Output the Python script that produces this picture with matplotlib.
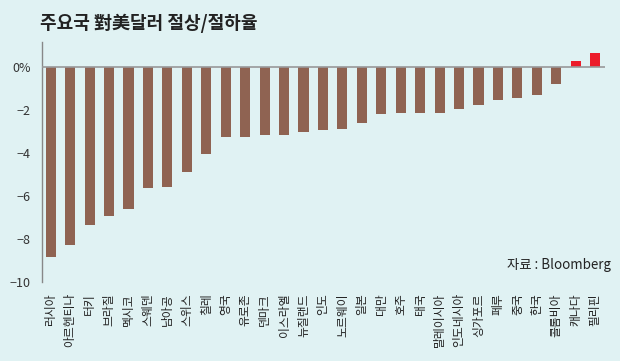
import matplotlib.pyplot as plt
import numpy as np

plt.rcParams['font.family'] = ['Noto Sans CJK KR', 'DejaVu Sans']

# 국가별 대미달러 절상/절하율 (%)
nations = ["러시아", "아르헨티나", "터키", "브라질", "멕시코", "스웨덴", "남아공", "스위스",
           "칠레", "영국", "유로존", "덴마크", "이스라엘", "뉴질랜드", "인도", "노르웨이",
           "일본", "대만", "호주", "태국", "말레이시아", "인도네시아", "싱가포르", "페루",
           "중국", "한국", "콜롬비아", "캐나다", "필리핀"]
rates = [-8.85, -8.28, -7.34, -6.92, -6.61, -5.66, -5.60, -4.88,
         -4.06, -3.28, -3.25, -3.20, -3.20, -3.06, -2.97, -2.88,
         -2.63, -2.21, -2.15, -2.15, -2.15, -1.98, -1.78, -1.55,
         -1.47, -1.33, -0.80, 0.26, 0.62]
yticks = [0, -2, -4, -6, -8, -10]
ylabels = ["0%", "\u22122", "\u22124", "\u22126", "\u22128", "\u221210"]

bg = "#e0f2f3"
brown = "#8f6352"
red = "#ec1c2a"

fig = plt.figure(figsize=(6.2, 3.61), dpi=100, facecolor=bg)
ax = fig.add_axes([0.0677, 0.219, 0.908, 0.666], facecolor=bg)

x = np.arange(len(nations))
cols = [red if v > 0 else brown for v in rates]
ax.bar(x, rates, width=0.52, color=cols, zorder=2)
ax.axhline(0, color="#999999", lw=1.2, zorder=3)

ax.set_xlim(-0.45, 28.5)
ax.set_ylim(-10, 1.16)
ax.set_yticks(yticks)
ax.set_yticklabels(ylabels, fontsize=9, color="#333333")
ax.set_xticks(x)
ax.set_xticklabels(nations, rotation=90, fontsize=8.5, color="#222222")
ax.tick_params(axis="both", length=0)
ax.tick_params(axis="x", pad=8)
ax.tick_params(axis="y", pad=8)

for s in ["top", "right", "bottom"]:
    ax.spines[s].set_visible(False)
ax.spines["left"].set_color("#888888")
ax.spines["left"].set_linewidth(1)

fig.text(0.065, 0.935, "주요국 對美달러 절상/절하율", fontsize=13, fontweight="bold",
         color="#222222", va="center", ha="left")
fig.text(0.985, 0.265, "자료 : Bloomberg", fontsize=9.6, color="#222222",
         ha="right", va="center")

fig.savefig("out.png", dpi=100, facecolor=bg)
